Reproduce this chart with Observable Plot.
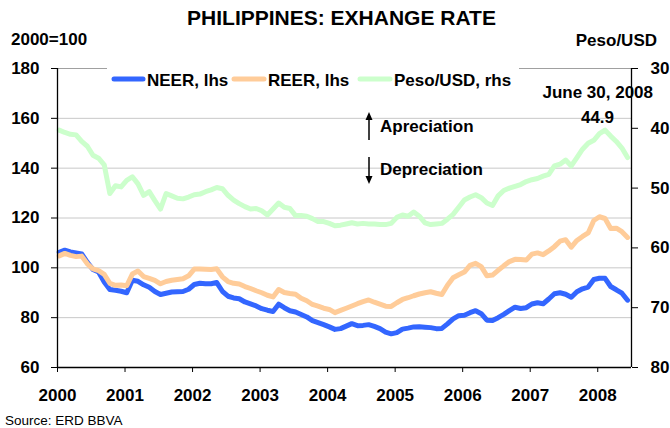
<!DOCTYPE html>
<html><head><meta charset="utf-8">
<script src="https://cdn.jsdelivr.net/npm/d3@7"></script>
<script src="https://cdn.jsdelivr.net/npm/@observablehq/plot@0.6"></script>
<style>
body{margin:0;background:#fff;}
#wrap{width:670px;height:428px;}
</style></head><body><div id="wrap"></div>
<script>
// Monthly data, Jan 2000 – Jun 2008
const startYear = 2000;
const neer = [106.2,107.1,106.4,106.0,105.6,102.2,99.3,98.3,94.3,91.3,91.0,90.6,
90.0,95.0,94.6,93.2,92.2,90.5,89.3,89.8,90.3,90.4,90.5,91.4,
93.3,93.8,93.6,93.6,94.1,90.6,88.6,87.9,87.6,86.3,85.5,84.7,
83.6,83.0,82.5,85.4,84.0,82.8,82.3,81.3,80.3,78.8,78.0,77.2,
76.3,75.3,75.6,76.6,77.6,76.8,76.9,77.2,76.5,75.6,74.2,73.5,
74.0,75.4,75.8,76.3,76.4,76.2,76.0,75.6,75.7,77.5,79.5,80.8,
81.0,82.0,82.8,81.6,79.0,78.9,80.0,81.3,82.8,84.2,83.7,84.0,
85.5,86.0,85.6,87.5,89.6,90.0,89.4,88.2,90.4,91.6,92.3,95.3,
95.8,95.8,92.5,91.2,89.8,87.0];
const reer = [104.8,105.8,105.0,104.5,104.7,101.6,99.6,98.9,97.4,93.8,93.0,93.1,
92.8,97.5,98.7,96.5,95.8,95.0,93.6,94.5,95.0,95.3,95.6,96.8,
99.5,99.5,99.4,99.3,99.6,96.4,94.5,93.8,93.5,92.5,91.7,90.8,
90.0,89.0,88.3,91.3,90.1,89.7,89.4,87.8,86.8,85.3,84.6,83.8,
83.3,82.0,82.9,83.8,84.7,85.6,86.4,87.1,86.2,85.4,84.6,84.5,
86.0,87.3,88.0,88.8,89.5,90.0,90.4,89.8,89.3,93.0,96.0,97.2,
98.3,101.0,101.8,100.5,96.8,97.1,99.0,100.8,102.5,103.4,103.3,103.1,
105.5,106.0,105.3,106.8,108.5,110.7,111.3,108.3,111.0,112.6,114.0,119.0,
120.5,119.8,115.8,115.9,114.5,112.2];
const peso = [40.3,40.7,41.0,41.1,42.2,43.0,44.5,45.0,46.1,50.9,49.6,49.8,
48.7,48.1,49.3,51.2,50.6,52.1,53.5,50.9,51.3,51.7,51.8,51.5,
51.1,51.0,50.6,50.3,49.9,50.1,51.2,52.0,52.6,53.1,53.5,53.4,
53.8,54.5,53.5,52.5,53.2,53.4,54.6,54.6,54.7,55.1,55.6,55.6,
55.9,56.3,56.2,56.0,55.8,56.0,55.9,56.0,56.0,56.1,56.1,55.9,
54.9,54.5,54.7,54.0,54.7,55.8,56.1,56.0,55.9,55.2,54.4,53.2,
52.0,51.5,51.1,51.6,52.5,52.9,51.3,50.4,50.0,49.7,49.4,48.9,
48.6,48.4,48.0,47.7,46.3,46.0,45.3,46.3,44.9,43.5,42.5,42.0,
40.9,40.3,41.3,42.2,43.3,44.9];

const yearTicks = [2000,2001,2002,2003,2004,2005,2006,2007,2008];
const leftTicks = [60,80,100,120,140,160,180];
const pesoTicks = [30,40,50,60,70,80];
const seriesNames = ["NEER, lhs","REER, lhs","Peso/USD, rhs"];
const seriesColors = ["#3366ff","#ffcc99","#ccffcc"];
const lastLabelDate = "June 30, 2008";
const lastLabelValue = "44.9";

// right axis (Peso/USD, inverted) mapped onto left scale: 30 -> 180, 80 -> 60
const toLeft = p => 180 - (p - 30) * 2.4;
const fromLeft = v => Math.round(30 + (180 - v) / 2.4);

const rows = neer.map((v, i) => ({
  t: startYear + (i + 0.3) / 12, neer: v, reer: reer[i], peso: peso[i]
}));

const FONT = '"Liberation Sans", Arial, Helvetica, sans-serif';

const chart = Plot.plot({
  width: 670, height: 428,
  marginTop: 68, marginBottom: 61, marginLeft: 57, marginRight: 39,
  style: {fontFamily: FONT, fontSize: "17px", fontWeight: "bold", color: "#000", background: "#fff", overflow: "visible"},
  x: {type: "linear", domain: [2000, 2008.5]},
  y: {domain: [60, 180]},
  marks: [
    Plot.gridY(leftTicks.slice(1, -1), {stroke: "#c8c8c8", strokeOpacity: 1}),
    Plot.gridY(leftTicks.slice(-1), {stroke: "#a0a0a0", strokeOpacity: 1}),
    Plot.lineY(rows, {x: "t", y: "neer", stroke: seriesColors[0], strokeWidth: 5, strokeLinejoin: "round", strokeLinecap: "round"}),
    Plot.lineY(rows, {x: "t", y: "reer", stroke: seriesColors[1], strokeWidth: 5, strokeLinejoin: "round", strokeLinecap: "round"}),
    Plot.lineY(rows, {x: "t", y: d => toLeft(d.peso), stroke: seriesColors[2], strokeWidth: 5, strokeLinejoin: "round", strokeLinecap: "round"}),
    Plot.ruleX([2000], {stroke: "#000", strokeWidth: 1.3}),
    Plot.ruleX([2008.5], {stroke: "#000", strokeWidth: 1.3}),
    Plot.ruleY([60], {stroke: "#000", strokeWidth: 1.3}),
    Plot.axisY(leftTicks, {anchor: "left", tickSize: 6, tickPadding: 12, label: null, fontSize: 17, fontWeight: "bold"}),
    Plot.axisY(pesoTicks.map(toLeft), {anchor: "right", tickSize: 6, tickPadding: 13, tickFormat: fromLeft, label: null, fontSize: 17, fontWeight: "bold"}),
    Plot.axisX(yearTicks, {anchor: "bottom", tickSize: 5, tickPadding: 16, tickFormat: d => String(d), label: null, fontSize: 17, fontWeight: "bold"})
  ]
});

const svg = d3.select(chart);
function txt(s, x, y, anchor, size, weight) {
  svg.append("text").text(s).attr("x", x).attr("y", y)
    .attr("text-anchor", anchor).attr("font-size", size)
    .attr("font-weight", weight).attr("font-family", FONT).attr("fill", "#000");
}
// titles
txt("PHILIPPINES: EXHANGE RATE", 341.5, 25, "middle", 21, "bold");
txt("2000=100", 11, 45, "start", 17, "bold");
txt("Peso/USD", 657, 46, "end", 17, "bold");
txt("Source: ERD BBVA", 5, 425, "start", 13.5, "normal");
// annotation
txt(lastLabelDate, 653, 98, "end", 17, "bold");
txt(lastLabelValue, 597.5, 123, "middle", 17, "bold");
txt("Apreciation", 380, 132, "start", 17, "bold");
txt("Depreciation", 380, 175, "start", 17, "bold");
svg.append("line").attr("x1", 369).attr("x2", 369).attr("y1", 140).attr("y2", 118).attr("stroke", "#000").attr("stroke-width", 1.5);
svg.append("path").attr("d", "M369,112L365.5,120L372.5,120Z").attr("fill", "#000");
svg.append("line").attr("x1", 369).attr("x2", 369).attr("y1", 157).attr("y2", 178).attr("stroke", "#000").attr("stroke-width", 1.5);
svg.append("path").attr("d", "M369,184L365.5,176L372.5,176Z").attr("fill", "#000");
// legend
svg.append("rect").attr("x", 107).attr("y", 65).attr("width", 412).attr("height", 28).attr("fill", "#fff");
const legX = [[112, 147], [232, 268], [358, 394]];
seriesNames.forEach((n, i) => {
  svg.append("line").attr("x1", legX[i][0] + 2).attr("x2", legX[i][1] - 4).attr("y1", 79).attr("y2", 79)
    .attr("stroke", seriesColors[i]).attr("stroke-width", 5).attr("stroke-linecap", "round");
  txt(n, legX[i][1], 86, "start", 17, "bold");
});

document.getElementById("wrap").appendChild(chart);
</script>
</body></html>
